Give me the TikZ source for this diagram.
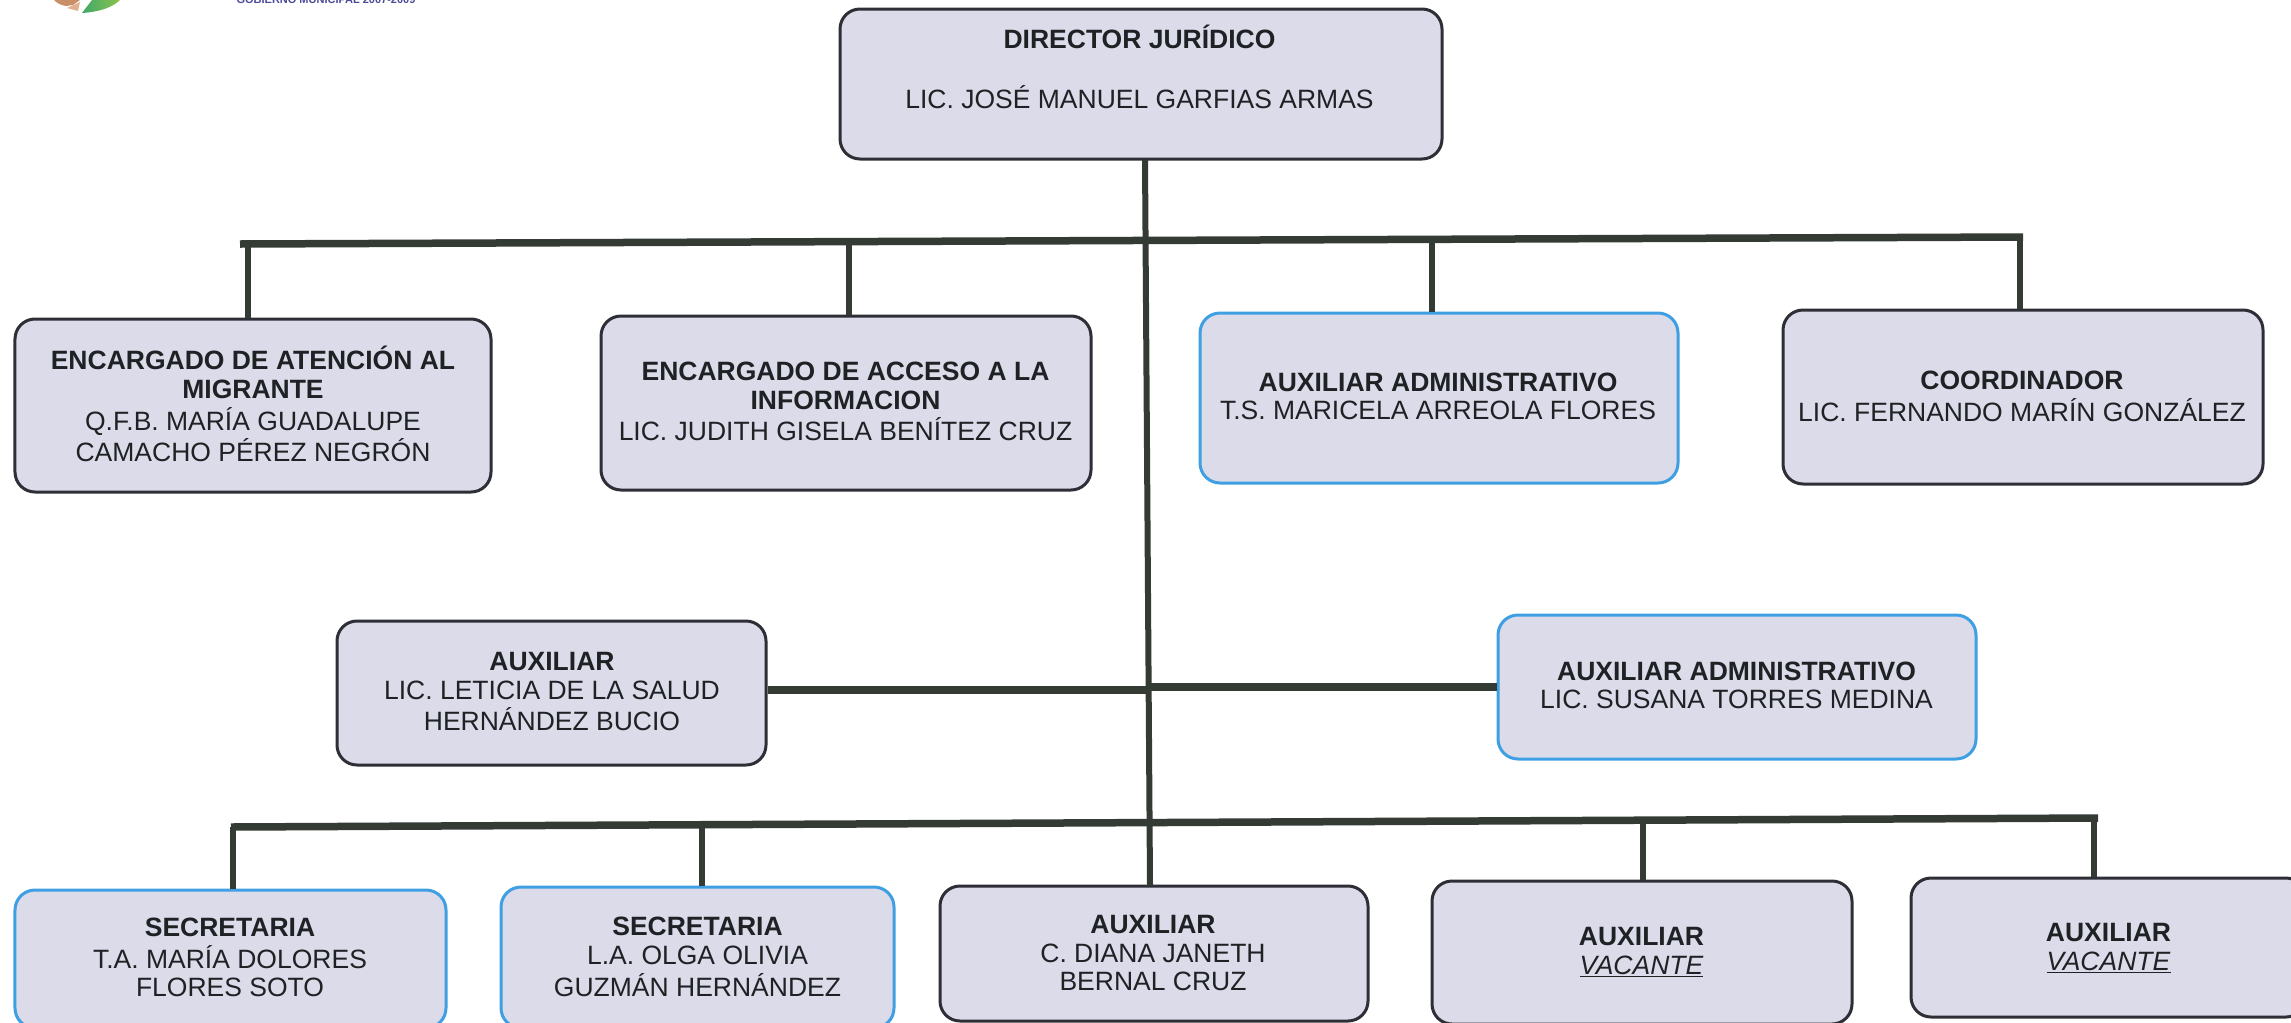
\documentclass[tikz,border=0pt]{standalone}
\usepackage{fontspec}
\setmainfont{Liberation Sans}
\definecolor{boxfill}{HTML}{DBDBE9}
\definecolor{edgedark}{HTML}{2E2E36}
\definecolor{edgeblue}{HTML}{3E9FE2}
\definecolor{inkdark}{HTML}{1E2224}
\definecolor{barcol}{HTML}{343A34}
\definecolor{logoblue}{HTML}{4A4A9A}
\definecolor{logogreenA}{HTML}{3FA868}
\definecolor{logogreenB}{HTML}{8CC24E}
\definecolor{logobrown}{HTML}{C98F68}
\definecolor{logosalmon}{HTML}{E2B08E}
\tikzset{
  orgbox/.style={draw=edgedark,fill=boxfill,line width=3bp,rounded corners=20bp,inner sep=0pt,text=inkdark},
  orgblue/.style={orgbox,draw=edgeblue},
  bus/.style={draw=barcol,line width=7.5bp},
  drop/.style={draw=barcol,line width=5.5bp},
  trunk/.style={draw=barcol,line width=6bp}
}
\newcommand{\bxtext}[3]{\makebox[0pt]{\hspace*{#1}\raisebox{\dimexpr#2-9bp\relax}[0pt][0pt]{\fontsize{26.5bp}{28.7bp}\selectfont\begin{tabular}[c]{@{}c@{}}#3\end{tabular}}}}
\newcommand{\orgnode}[9]{%
  \pgfmathsetmacro{\cxx}{(#2+#4)/2}\pgfmathsetmacro{\cyy}{(#3+#5)/2}%
  \pgfmathsetmacro{\ww}{#4-#2}\pgfmathsetmacro{\hh}{#5-#3}%
  \node[#6,minimum width=\ww bp,minimum height=\hh bp] (#1) at (\cxx,\cyy) {\bxtext{#7bp}{#8bp}{#9}};%
}
\begin{document}
\begin{tikzpicture}[x=1bp,y=-1bp]
\useasboundingbox (0,0) rectangle (2291,1022);
% clipped remains of the letterhead
\fill[logobrown] (54,0) .. controls (57,3) and (60,5) .. (66,6) -- (73,5) -- (80,0) -- cycle;
\fill[logosalmon] (67,8) -- (80,2) -- (78,11) -- cycle;
\shade[left color=logogreenA,right color=logogreenB] (92,0) -- (120,0) .. controls (112,8) and (98,12) .. (82,13) -- cycle;
\node[anchor=base,inner sep=0pt,text=logoblue] (lhead) at (326,3) {\fontsize{11bp}{11bp}\selectfont\bfseries GOBIERNO MUNICIPAL 2007-2009};
% connectors
\coordinate (t0) at (1145,160);
\coordinate (t1) at (1150,886);
\coordinate (busAL) at (240,244);
\coordinate (busAR) at (2023,237);
\coordinate (busBL) at (231,827);
\coordinate (busBR) at (2098,818);
\coordinate (dA1) at (248,244);
\coordinate (dA2) at (849,242);
\coordinate (dA3) at (1432,240);
\coordinate (dA4) at (2020,237);
\coordinate (dB1) at (233,827);
\coordinate (dB2) at (702,825);
\coordinate (dB3) at (1643,820);
\coordinate (dB4) at (2094,818);
\coordinate (mL) at (1148,690);
\coordinate (mR) at (1148,687);
% boxes
\orgnode{dir}{840}{9}{1442}{159}{orgbox}{-3}{15.5}{\textbf{DIRECTOR JURÍDICO}\\[28bp]LIC. JOSÉ MANUEL GARFIAS ARMAS}
\orgnode{mig}{15}{319}{491}{492}{orgbox}{0}{0}{\textbf{ENCARGADO DE ATENCIÓN AL}\\\textbf{MIGRANTE}\\Q.F.B. MARÍA GUADALUPE\\CAMACHO PÉREZ NEGRÓN}
\orgnode{acc}{601}{316}{1091}{490}{orgbox}{-1}{1}{\textbf{ENCARGADO DE ACCESO A LA}\\\textbf{INFORMACION}\\LIC. JUDITH GISELA BENÍTEZ CRUZ}
\orgnode{adm}{1200}{313}{1678}{483}{orgblue}{-2}{1}{\textbf{AUXILIAR ADMINISTRATIVO}\\T.S. MARICELA ARREOLA FLORES}
\orgnode{coo}{1783}{310}{2263}{484}{orgbox}{-2}{0}{\textbf{COORDINADOR}\\LIC. FERNANDO MARÍN GONZÁLEZ}
\orgnode{let}{337}{621}{766}{765}{orgbox}{1}{1}{\textbf{AUXILIAR}\\LIC. LETICIA DE LA SALUD\\HERNÁNDEZ BUCIO}
\orgnode{sus}{1498}{615}{1976}{759}{orgblue}{-1}{1}{\textbf{AUXILIAR ADMINISTRATIVO}\\LIC. SUSANA TORRES MEDINA}
\orgnode{secA}{15}{890}{446}{1028}{orgblue}{-1}{1}{\textbf{SECRETARIA}\\T.A. MARÍA DOLORES\\FLORES SOTO}
\orgnode{secB}{501}{887}{894}{1028}{orgblue}{0}{0}{\textbf{SECRETARIA}\\L.A. OLGA OLIVIA\\GUZMÁN HERNÁNDEZ}
\orgnode{dia}{940}{886}{1368}{1021}{orgbox}{-2}{0}{\textbf{AUXILIAR}\\C. DIANA JANETH\\BERNAL CRUZ}
\orgnode{vacA}{1432}{881}{1852}{1024}{orgbox}{-1}{1}{\textbf{AUXILIAR}\\\underline{\textit{VACANTE}}}
\orgnode{vacB}{1911}{878}{2306}{1017}{orgbox}{0}{0}{\textbf{AUXILIAR}\\\underline{\textit{VACANTE}}}
% lines
\draw[trunk] (t0) -- (t1);
\draw[bus] (busAL) -- (busAR);
\draw[bus] (busBL) -- (busBR);
\draw[bus] (let.east |- mL) -- (mL);
\draw[bus] (mR) -- (mR -| sus.west);
\draw[drop] (dA1) -- (dA1 |- mig.north);
\draw[drop] (dA2) -- (dA2 |- acc.north);
\draw[drop] (dA3) -- (dA3 |- adm.north);
\draw[drop] (dA4) -- (dA4 |- coo.north);
\draw[drop] (dB1) -- (dB1 |- secA.north);
\draw[drop] (dB2) -- (dB2 |- secB.north);
\draw[drop] (dB3) -- (dB3 |- vacA.north);
\draw[drop] (dB4) -- (dB4 |- vacB.north);
\end{tikzpicture}
\end{document}
